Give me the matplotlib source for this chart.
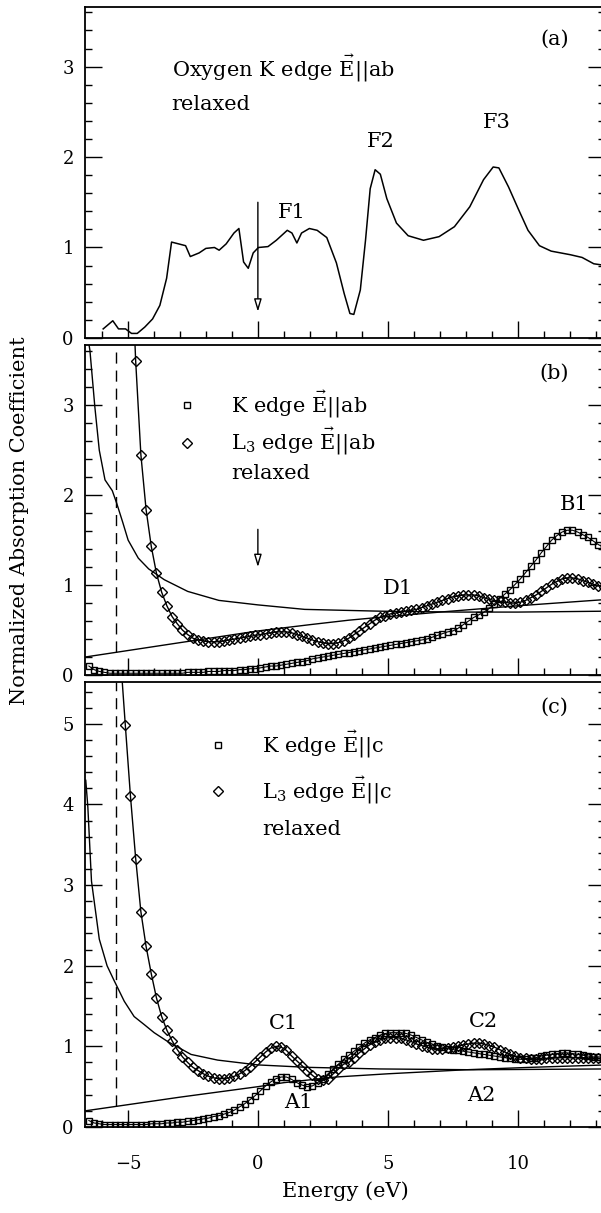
import numpy as np
import matplotlib.pyplot as plt
from matplotlib.lines import Line2D
from matplotlib.ticker import MultipleLocator

plt.rcParams['font.family'] = ['DejaVu Serif']
plt.rcParams['mathtext.fontset'] = 'dejavuserif'

# --- panel (a): oxygen K edge, E || ab ---
e_a = [-5.95, -5.58, -5.36, -5.09, -4.86, -4.64, -4.35, -4.05, -3.77, -3.51,
       -3.32, -2.78, -2.6, -2.26, -2.0, -1.67, -1.49, -1.22, -0.92, -0.73,
       -0.55, -0.37, -0.18, 0.02, 0.39, 0.71, 1.13, 1.31, 1.5, 1.68,
       1.98, 2.28, 2.65, 3.02, 3.32, 3.54, 3.69, 3.94, 4.14, 4.32,
       4.51, 4.71, 4.96, 5.33, 5.78, 6.37, 6.97, 7.56, 8.15, 8.68,
       9.05, 9.27, 9.64, 10.01, 10.39, 10.83, 11.28, 12.02, 12.47, 12.92, 13.4]
mu_a = [0.10, 0.19, 0.10, 0.10, 0.05, 0.05, 0.12, 0.21, 0.36, 0.66,
        1.06, 1.02, 0.90, 0.94, 0.99, 1.00, 0.97, 1.04, 1.16, 1.21,
        0.84, 0.77, 0.94, 1.00, 1.01, 1.08, 1.19, 1.16, 1.05, 1.16,
        1.21, 1.19, 1.11, 0.83, 0.49, 0.27, 0.26, 0.53, 1.08, 1.65,
        1.86, 1.81, 1.54, 1.27, 1.13, 1.08, 1.12, 1.23, 1.45, 1.75,
        1.89, 1.88, 1.67, 1.43, 1.19, 1.02, 0.96, 0.92, 0.89, 0.82, 0.80]

# --- calculated spectra, 0.2 eV grid (100 points) ---
energy = np.round(np.arange(-6.5, 13.31, 0.2), 1)
nan = np.nan

# panel (b)
k_ab = [0.10, 0.06, 0.04, 0.03, 0.02, 0.02, 0.02, 0.02, 0.02, 0.02,
        0.02, 0.02, 0.02, 0.02, 0.02, 0.02, 0.02, 0.02, 0.02, 0.03,
        0.03, 0.03, 0.03, 0.04, 0.04, 0.04, 0.05, 0.05, 0.05, 0.06,
        0.06, 0.07, 0.07, 0.08, 0.09, 0.10, 0.10, 0.11, 0.12, 0.13,
        0.14, 0.15, 0.16, 0.18, 0.19, 0.20, 0.21, 0.22, 0.23, 0.24,
        0.25, 0.26, 0.27, 0.28, 0.29, 0.30, 0.31, 0.32, 0.33, 0.34,
        0.35, 0.36, 0.37, 0.38, 0.39, 0.40, 0.42, 0.44, 0.46, 0.48,
        0.49, 0.52, 0.56, 0.60, 0.64, 0.67, 0.70, 0.74, 0.79, 0.85,
        0.90, 0.95, 1.01, 1.07, 1.14, 1.21, 1.28, 1.36, 1.43, 1.50,
        1.55, 1.59, 1.61, 1.61, 1.59, 1.56, 1.53, 1.49, 1.45, 1.42]
l3_ab = [nan, nan, nan, nan, nan, nan, nan, nan, 4.90, 3.49,
         2.45, 1.84, 1.43, 1.13, 0.92, 0.77, 0.65, 0.57, 0.50, 0.45,
         0.41, 0.39, 0.38, 0.37, 0.37, 0.37, 0.38, 0.39, 0.40, 0.41,
         0.42, 0.43, 0.44, 0.45, 0.46, 0.47, 0.48, 0.48, 0.48, 0.47,
         0.45, 0.43, 0.41, 0.39, 0.37, 0.36, 0.35, 0.35, 0.36, 0.38,
         0.41, 0.45, 0.49, 0.53, 0.57, 0.61, 0.64, 0.66, 0.68, 0.69,
         0.70, 0.71, 0.72, 0.73, 0.75, 0.77, 0.79, 0.81, 0.83, 0.85,
         0.87, 0.88, 0.89, 0.89, 0.89, 0.88, 0.86, 0.84, 0.83, 0.82,
         0.81, 0.80, 0.80, 0.81, 0.83, 0.86, 0.89, 0.93, 0.97, 1.01,
         1.04, 1.07, 1.08, 1.08, 1.07, 1.05, 1.03, 1.01, 0.99, 0.98]
e_bg_b = [-6.62, -6.46, -6.27, -6.1, -5.88, -5.6, -5.43, -5.2, -4.99, -4.6,
          -4.2, -3.6, -2.7, -1.5, 0.0, 1.8, 4.7, 7.7, 10.0, 13.4]
bg_b = [3.9, 3.61, 2.98, 2.5, 2.17, 2.05, 1.91, 1.7, 1.5, 1.3,
        1.18, 1.06, 0.93, 0.83, 0.78, 0.73, 0.71, 0.70, 0.70, 0.71]
e_step_b = [-6.65, -3.0, 0.0, 2.0, 3.5, 5.0, 7.0, 10.0, 13.4]
step_b = [0.20, 0.36, 0.49, 0.56, 0.61, 0.65, 0.70, 0.77, 0.84]

# panel (c)
k_c = [0.08, 0.05, 0.04, 0.03, 0.03, 0.03, 0.03, 0.03, 0.03, 0.03,
       0.03, 0.03, 0.04, 0.04, 0.04, 0.05, 0.05, 0.06, 0.06, 0.07,
       0.08, 0.09, 0.10, 0.11, 0.13, 0.14, 0.16, 0.18, 0.21, 0.25,
       0.29, 0.34, 0.39, 0.45, 0.51, 0.56, 0.60, 0.62, 0.62, 0.59,
       0.55, 0.52, 0.50, 0.51, 0.55, 0.60, 0.66, 0.72, 0.78, 0.84,
       0.89, 0.94, 0.99, 1.04, 1.08, 1.11, 1.14, 1.16, 1.17, 1.17,
       1.17, 1.16, 1.14, 1.11, 1.08, 1.05, 1.03, 1.01, 0.99, 0.97,
       0.96, 0.95, 0.94, 0.93, 0.92, 0.91, 0.90, 0.89, 0.88, 0.87,
       0.86, 0.85, 0.84, 0.84, 0.84, 0.85, 0.86, 0.88, 0.89, 0.90,
       0.91, 0.92, 0.92, 0.91, 0.90, 0.89, 0.88, 0.87, 0.87, 0.87]
l3_c = [nan, nan, nan, nan, nan, nan, 5.90, 4.99, 4.10, 3.33,
        2.67, 2.24, 1.90, 1.60, 1.37, 1.20, 1.07, 0.96, 0.87, 0.80,
        0.74, 0.70, 0.66, 0.63, 0.61, 0.60, 0.60, 0.61, 0.63, 0.66,
        0.70, 0.75, 0.81, 0.87, 0.93, 0.98, 1.00, 0.99, 0.95, 0.88,
        0.82, 0.76, 0.70, 0.64, 0.59, 0.58, 0.60, 0.66, 0.72, 0.78,
        0.80, 0.86, 0.92, 0.97, 1.02, 1.05, 1.08, 1.10, 1.11, 1.11,
        1.10, 1.08, 1.06, 1.03, 1.01, 0.99, 0.97, 0.97, 0.97, 0.98,
        0.99, 1.00, 1.02, 1.03, 1.04, 1.04, 1.03, 1.01, 0.99, 0.96,
        0.93, 0.90, 0.88, 0.86, 0.85, 0.84, 0.84, 0.84, 0.85, 0.85,
        0.86, 0.86, 0.86, 0.86, 0.86, 0.86, 0.85, 0.85, 0.85, 0.85]
e_bg_c = [-6.62, -6.54, -6.4, -6.1, -5.8, -5.55, -5.14, -4.76, -4.37, -3.99,
          -3.47, -2.57, -1.55, 0.0, 1.9, 4.7, 8.3, 13.4]
bg_c = [4.3, 3.97, 3.05, 2.33, 2.0, 1.83, 1.56, 1.37, 1.27, 1.17,
        1.06, 0.90, 0.83, 0.77, 0.74, 0.72, 0.71, 0.72]
e_step_c = [-6.65, -3.0, 0.0, 1.0, 3.0, 5.0, 8.0, 10.5, 13.4]
step_c = [0.20, 0.37, 0.50, 0.55, 0.62, 0.66, 0.71, 0.74, 0.77]

e_fermi = -5.47   # dashed line

# --- figure ---
fig = plt.figure(figsize=(6.01, 12.13), dpi=100)
left, width = 0.1414, 0.8652
ax_a = fig.add_axes([left, 0.7214, width, 0.2729])
ax_b = fig.add_axes([left, 0.4435, width, 0.2721])
ax_c = fig.add_axes([left, 0.0709, width, 0.3669])

for ax, top in [(ax_a, 3.66), (ax_b, 3.67), (ax_c, 5.52)]:
    ax.set_xlim(-6.65, 13.35)
    ax.set_ylim(0, top)
    ax.xaxis.set_major_locator(MultipleLocator(5))
    ax.xaxis.set_minor_locator(MultipleLocator(1))
    ax.yaxis.set_major_locator(MultipleLocator(1))
    ax.yaxis.set_minor_locator(MultipleLocator(0.2))
    ax.tick_params(which='both', direction='in', top=False, right=True, width=1)
    ax.tick_params(which='major', length=12, labelsize=13)
    ax.tick_params(which='minor', length=5)
    ax.tick_params(axis='y', which='major', pad=8)
    ax.tick_params(axis='x', which='major', pad=20)
    for s in ax.spines.values():
        s.set_linewidth(1.3)
ax_a.tick_params(labelbottom=False)
ax_b.tick_params(labelbottom=False)

# (a)
ax_a.plot(e_a, mu_a, color='black', lw=1.1)
ax_a.annotate('', xy=(0, 0.29), xytext=(0, 1.5),
              arrowprops=dict(arrowstyle='-|>,head_width=0.15,head_length=0.5',
                              fc='white', ec='black', lw=1, mutation_scale=15,
                              shrinkA=0, shrinkB=0))
ax_a.text(11.4, 3.3, '(a)', fontsize=15, ha='center', va='center')
ax_a.text(-3.32, 2.98, r'Oxygen K edge $\vec{\mathrm{E}}$||ab', fontsize=15, va='center')
ax_a.text(-3.32, 2.58, 'relaxed', fontsize=15, va='center')
ax_a.text(1.3, 1.39, 'F1', fontsize=15, ha='center', va='center')
ax_a.text(4.72, 2.17, 'F2', fontsize=15, ha='center', va='center')
ax_a.text(9.18, 2.38, 'F3', fontsize=15, ha='center', va='center')

SQ = dict(marker='s', ms=4.8, mfc='none', mew=1)
DI = dict(marker='D', ms=5, mfc='none', mew=1)


def draw_spectra(ax, k, l3, e_bg, bg, e_st, st):
    ax.plot(e_bg, bg, color='black', lw=1)
    ax.plot(e_st, st, color='black', lw=1)
    ax.plot([e_fermi, e_fermi], [np.interp(e_fermi, e_st, st), ax.get_ylim()[1]],
            color='black', lw=1, ls=(0, (8, 5)))
    ax.plot(energy, k, color='black', lw=0.8, **SQ)
    ax.plot(energy, l3, color='black', lw=1, **DI)


def key_legend(ax, labels, x, y, spacing):
    handles = [Line2D([], [], ls='none', mec='black', **SQ),
               Line2D([], [], ls='none', mec='black', **DI),
               Line2D([], [], ls='none', marker='none')]
    ax.legend(handles, labels, loc='center left', bbox_to_anchor=(x, y),
              bbox_transform=ax.transData, frameon=False, fontsize=15,
              handlelength=1.0, handletextpad=1.6, labelspacing=spacing,
              borderpad=0, borderaxespad=0)


# (b)
draw_spectra(ax_b, k_ab, l3_ab, e_bg_b, bg_b, e_step_b, step_b)
ax_b.annotate('', xy=(0, 1.2), xytext=(0, 1.62),
              arrowprops=dict(arrowstyle='-|>,head_width=0.15,head_length=0.5',
                              fc='white', ec='black', lw=1, mutation_scale=15,
                              shrinkA=0, shrinkB=0))
ax_b.text(11.4, 3.35, '(b)', fontsize=15, ha='center', va='center')
ax_b.text(5.4, 0.96, 'D1', fontsize=15, ha='center', va='center')
ax_b.text(12.15, 1.9, 'B1', fontsize=15, ha='center', va='center')
key_legend(ax_b, [r'K edge $\vec{\mathrm{E}}$||ab', r'L$_3$ edge $\vec{\mathrm{E}}$||ab', 'relaxed'],
           -3.12, 2.66, 0.3)

# (c)
draw_spectra(ax_c, k_c, l3_c, e_bg_c, bg_c, e_step_c, step_c)
ax_c.text(11.4, 5.2, '(c)', fontsize=15, ha='center', va='center')
ax_c.text(1.0, 1.28, 'C1', fontsize=15, ha='center', va='center')
ax_c.text(8.66, 1.31, 'C2', fontsize=15, ha='center', va='center')
ax_c.text(1.54, 0.30, 'A1', fontsize=15, ha='center', va='center')
ax_c.text(8.6, 0.39, 'A2', fontsize=15, ha='center', va='center')
key_legend(ax_c, [r'K edge $\vec{\mathrm{E}}$||c', r'L$_3$ edge $\vec{\mathrm{E}}$||c', 'relaxed'],
           -1.93, 4.25, 0.7)
ax_c.set_xlabel('Energy (eV)', fontsize=15, labelpad=6)

fig.text(0.033, 0.571, 'Normalized Absorption Coefficient', rotation=90,
         ha='center', va='center', fontsize=15)

fig.savefig('out.png', dpi=100)
